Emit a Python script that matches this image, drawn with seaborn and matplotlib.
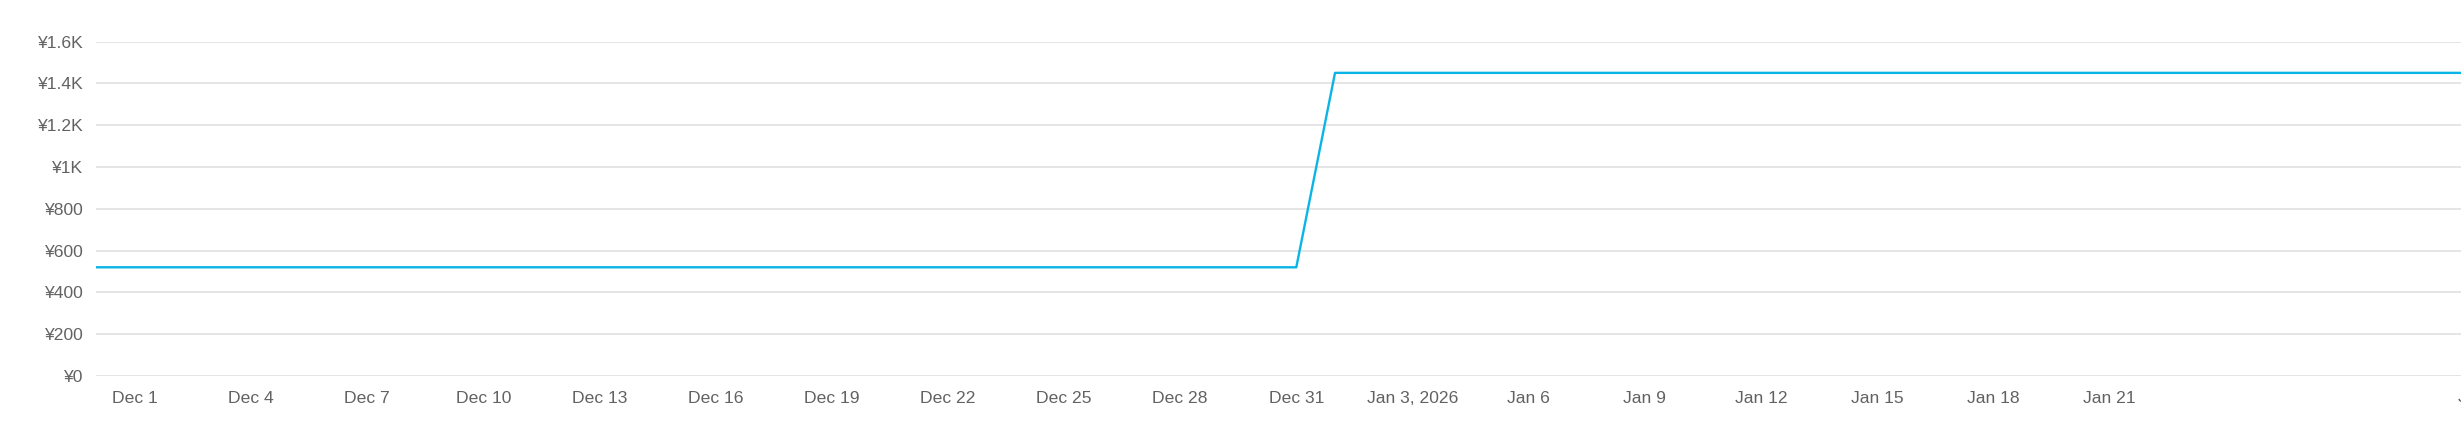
import pandas as pd
import matplotlib
matplotlib.use("Agg")
import matplotlib.pyplot as plt
import seaborn as sns

# daily balance, Nov 30 2025 .. Jan 31 2026
dates = pd.date_range("2025-11-30", "2026-01-31", freq="D")
balance = [
    520, 520, 520, 520, 520, 520, 520, 520, 520, 520, 520,  # Nov 30 - Dec 10
    520, 520, 520, 520, 520, 520, 520, 520, 520, 520,       # Dec 11 - Dec 20
    520, 520, 520, 520, 520, 520, 520, 520, 520, 520, 520,  # Dec 21 - Dec 31
    1450, 1450, 1450, 1450, 1450, 1450, 1450, 1450, 1450, 1450,  # Jan 1 - Jan 10
    1450, 1450, 1450, 1450, 1450, 1450, 1450, 1450, 1450, 1450,  # Jan 11 - Jan 20
    1450, 1450, 1450, 1450, 1450, 1450, 1450, 1450, 1450, 1450, 1450,  # Jan 21 - Jan 31
]

tick_dates = ["2025-12-01", "2025-12-04", "2025-12-07", "2025-12-10", "2025-12-13",
              "2025-12-16", "2025-12-19", "2025-12-22", "2025-12-25", "2025-12-28",
              "2025-12-31", "2026-01-03", "2026-01-06", "2026-01-09", "2026-01-12",
              "2026-01-15", "2026-01-18", "2026-01-21"]
tick_labels = ["Dec 1", "Dec 4", "Dec 7", "Dec 10", "Dec 13", "Dec 16", "Dec 19",
               "Dec 22", "Dec 25", "Dec 28", "Dec 31", "Jan 3, 2026", "Jan 6",
               "Jan 9", "Jan 12", "Jan 15", "Jan 18", "Jan 21"]
last_tick = ("2026-01-30", "Jan 30")

y_ticks = [0, 200, 400, 600, 800, 1000, 1200, 1400, 1600]
y_labels = ["¥0", "¥200", "¥400", "¥600", "¥800", "¥1K", "¥1.2K", "¥1.4K", "¥1.6K"]

df = pd.DataFrame({"date": dates, "balance": balance})

sns.set_style("white")
plt.rcParams["font.family"] = ["Liberation Sans", "DejaVu Sans"]

FS = 12.6
TXT = "#626262"

fig = plt.figure(figsize=(24.61, 4.46), dpi=100)
# axes runs past the right edge of the figure, like the cropped original
ax = fig.add_axes([96 / 2461, 70 / 446, 2400.6 / 2461, 334.5 / 446])

sns.lineplot(data=df, x="date", y="balance", ax=ax, color="#0ab4e6", linewidth=1.7)

ax.set_xlim(pd.Timestamp("2025-11-30"), pd.Timestamp("2026-01-31"))
ax.set_ylim(0, 1600)

ax.set_yticks(y_ticks)
ax.set_yticklabels(y_labels)
ax.set_xticks(pd.to_datetime(tick_dates))
ax.set_xticklabels(tick_labels)

ax.text(pd.Timestamp(last_tick[0]), -0.064, last_tick[1], transform=ax.get_xaxis_transform(),
        ha="left", va="center", fontsize=FS, color=TXT)

ax.tick_params(axis="both", length=0, labelsize=FS, labelcolor=TXT)
ax.tick_params(axis="x", pad=11)
ax.tick_params(axis="y", pad=9)

ax.grid(axis="y", color="#e3e3e3", linewidth=1.3)
ax.grid(axis="x", visible=False)
ax.set_axisbelow(True)
for s in ax.spines.values():
    s.set_visible(False)
ax.set_xlabel("")
ax.set_ylabel("")

fig.savefig("out.png", dpi=100)
